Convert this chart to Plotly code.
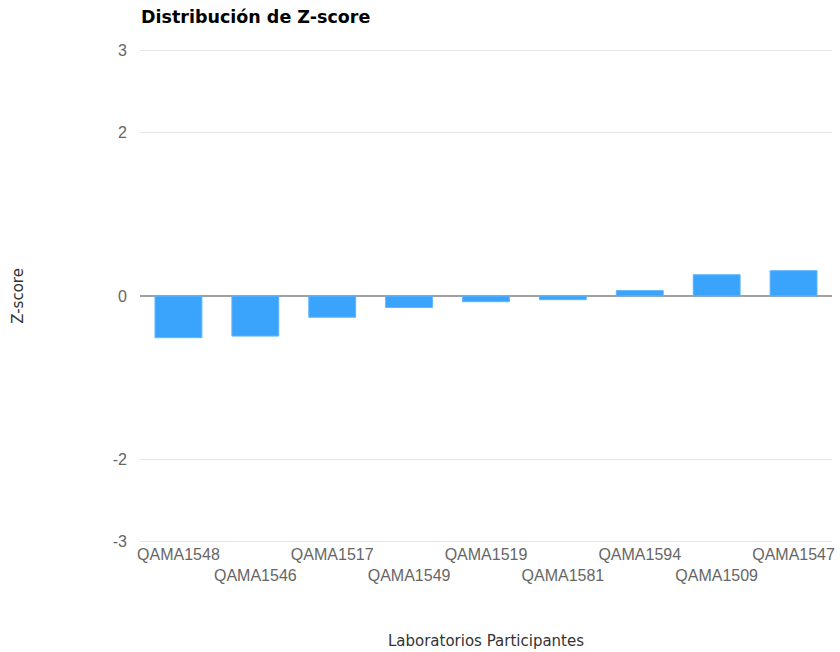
import plotly.graph_objects as go

labs = ["QAMA1548", "QAMA1546", "QAMA1517", "QAMA1549", "QAMA1519",
        "QAMA1581", "QAMA1594", "QAMA1509", "QAMA1547"]
zscores = [-0.51, -0.49, -0.26, -0.14, -0.07, -0.045, 0.066, 0.26, 0.31]
ytick_vals = [-3, -2, 0, 2, 3]
ytick_text = ["-3", "-2", "0", "2", "3"]

# staggered labels: every second one goes to a second row
tick_text = [l if i % 2 == 0 else "<br>" + l for i, l in enumerate(labs)]

GRID = "#e6e6e6"
BAR = "#3aa3fc"
TITLE_FONT = dict(family="Verdana, DejaVu Sans", size=15, color="#333")

fig = go.Figure(
    data=[
        go.Bar(
            x=labs,
            y=zscores,
            marker=dict(color=BAR, line=dict(width=1, color="#62b5fd")),
            name="Z-score",
        )
    ],
    layout=go.Layout(
        width=840,
        height=652,
        paper_bgcolor="white",
        plot_bgcolor="white",
        margin=dict(t=49, b=109, l=140, r=5),
        bargap=0.39,
        showlegend=False,
        font=dict(family="Liberation Sans, Arial", size=16, color="#666"),
        title=dict(
            text="<b>Distribución de Z-score</b>",
            x=141 / 840,
            xanchor="left",
            y=1 - 17 / 652,
            yanchor="middle",
            font=dict(family="Verdana, DejaVu Sans", size=17.5, color="#000"),
        ),
        xaxis=dict(
            tickmode="array",
            tickvals=labs,
            ticktext=tick_text,
            showgrid=False,
            showline=False,
            ticks="",
            tickangle=0,
            title=dict(text="Laboratorios Participantes", standoff=52, font=TITLE_FONT),
        ),
        yaxis=dict(
            range=[-3.02, 3.02],
            tickvals=ytick_vals,
            ticktext=ytick_text,
            gridcolor=GRID,
            zeroline=True,
            zerolinecolor="#a0a0a0",
            zerolinewidth=2,
            ticks="",
            ticklabelstandoff=12,
            title=dict(text="Z-score", standoff=85, font=TITLE_FONT),
        ),
    ),
)

# drop the default body margin so the 840x652 figure fits the window exactly
fig.write_html(
    "out.html",
    config={"displayModeBar": False},
    post_script="document.body.style.margin='0';document.body.style.overflow='hidden';",
)
